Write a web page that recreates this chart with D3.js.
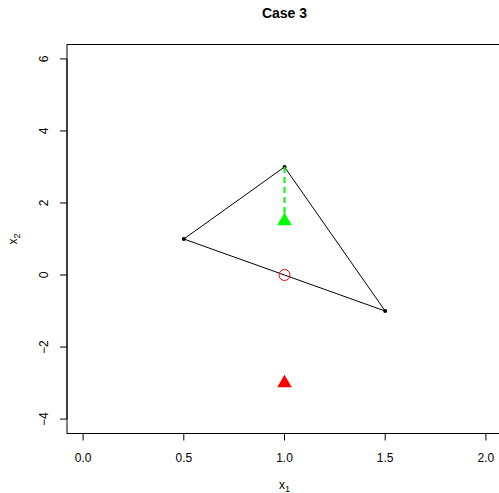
<!DOCTYPE html>
<html>
<head>
<meta charset="utf-8">
<script src="https://cdn.jsdelivr.net/npm/d3@7"></script>
<style>
  body { margin: 0; background: #fff; }
  text { font-family: "Liberation Sans", Arial, sans-serif; }
</style>
</head>
<body>
<div id="chart"></div>
<script>
// triangle vertices
var triX = [0.5, 1.0, 1.5];
var triY = [1, 3, -1];
// green projection segment + target
var segX = [1.0, 1.0];
var segY = [3, 1.5];
var greenPt = [1.0, 1.5];
var redPt = [1.0, -3];
var circlePt = [1.0, 0];
var xTicks = [0, 0.5, 1, 1.5, 2];
var yTicks = [-4, -2, 0, 2, 4, 6];

var width = 499, height = 493;
var plotL = 67, plotR = 502, plotT = 44.5, plotB = 433.5;

var svg = d3.select('#chart').append('svg')
  .attr('width', width)
  .attr('height', height);

var x = d3.scaleLinear().domain([-0.08, 2.08]).range([plotL, plotR]);
var y = d3.scaleLinear().domain([-4.4, 6.4]).range([plotB, plotT]);

// box
svg.append('rect')
  .attr('x', plotL).attr('y', plotT)
  .attr('width', plotR - plotL).attr('height', plotB - plotT)
  .attr('fill', 'none').attr('stroke', '#000').attr('stroke-width', 1);

// x axis
var gx = svg.append('g').attr('transform', 'translate(0,' + plotB + ')');
gx.append('line')
  .attr('x1', x(xTicks[0])).attr('x2', x(xTicks[xTicks.length - 1]))
  .attr('stroke', '#000');
gx.selectAll('.xt').data(xTicks).enter().append('line')
  .attr('x1', function (d) { return x(d); })
  .attr('x2', function (d) { return x(d); })
  .attr('y2', 7).attr('stroke', '#000');
gx.selectAll('.xl').data(xTicks).enter().append('text')
  .attr('x', function (d) { return x(d); })
  .attr('y', 28)
  .attr('text-anchor', 'middle')
  .style('font-size', '12px')
  .text(function (d) { return d3.format('.1f')(d); });

// y axis
var gy = svg.append('g').attr('transform', 'translate(' + plotL + ',0)');
gy.append('line')
  .attr('y1', y(yTicks[0])).attr('y2', y(yTicks[yTicks.length - 1]))
  .attr('stroke', '#000');
gy.selectAll('.yt').data(yTicks).enter().append('line')
  .attr('y1', function (d) { return y(d); })
  .attr('y2', function (d) { return y(d); })
  .attr('x2', -7).attr('stroke', '#000');
gy.selectAll('.yl').data(yTicks).enter().append('text')
  .attr('transform', function (d) { return 'translate(-19,' + y(d) + ') rotate(-90)'; })
  .attr('text-anchor', 'middle')
  .style('font-size', '12px')
  .text(function (d) { return d < 0 ? '\u2212' + (-d) : d; });

// axis titles
var xl = svg.append('text')
  .attr('x', (plotL + plotR) / 2).attr('y', 489)
  .attr('text-anchor', 'middle')
  .style('font-size', '12px')
  .text('x');
xl.append('tspan').attr('dy', 3).style('font-size', '9px').text('1');

var yl = svg.append('text')
  .attr('transform', 'translate(17,' + (plotT + plotB) / 2 + ') rotate(-90)')
  .attr('text-anchor', 'middle')
  .style('font-size', '12px')
  .text('x');
yl.append('tspan').attr('dy', 3).style('font-size', '9px').text('2');

// title
svg.append('text')
  .attr('x', (plotL + plotR) / 2).attr('y', 18)
  .attr('text-anchor', 'middle')
  .style('font-size', '14px')
  .style('font-weight', 'bold')
  .text('Case 3');

// triangle
var tri = triX.map(function (d, i) { return [x(d), y(triY[i])]; });
svg.append('path')
  .attr('d', d3.line()(tri.concat([tri[0]])))
  .attr('fill', 'none').attr('stroke', '#000').attr('stroke-width', 1);
svg.selectAll('.v').data(tri).enter().append('circle')
  .attr('cx', function (d) { return d[0]; })
  .attr('cy', function (d) { return d[1]; })
  .attr('r', 2).attr('fill', '#000');

// green dashed segment
svg.append('line')
  .attr('x1', x(segX[0])).attr('y1', y(segY[0]))
  .attr('x2', x(segX[1])).attr('y2', y(segY[1]))
  .attr('stroke', '#00ff00').attr('stroke-width', 2)
  .attr('stroke-dasharray', '6,4');

var triSym = d3.symbol().type(d3.symbolTriangle).size(92);
svg.append('path')
  .attr('d', triSym)
  .attr('transform', 'translate(' + x(greenPt[0]) + ',' + y(greenPt[1]) + ')')
  .attr('fill', '#00ff00');
svg.append('path')
  .attr('d', triSym)
  .attr('transform', 'translate(' + x(redPt[0]) + ',' + y(redPt[1]) + ')')
  .attr('fill', '#ff0000');

svg.append('circle')
  .attr('cx', x(circlePt[0])).attr('cy', y(circlePt[1]))
  .attr('r', 5.5)
  .attr('fill', 'none').attr('stroke', '#ff0000').attr('stroke-width', 1);
</script>
</body>
</html>
